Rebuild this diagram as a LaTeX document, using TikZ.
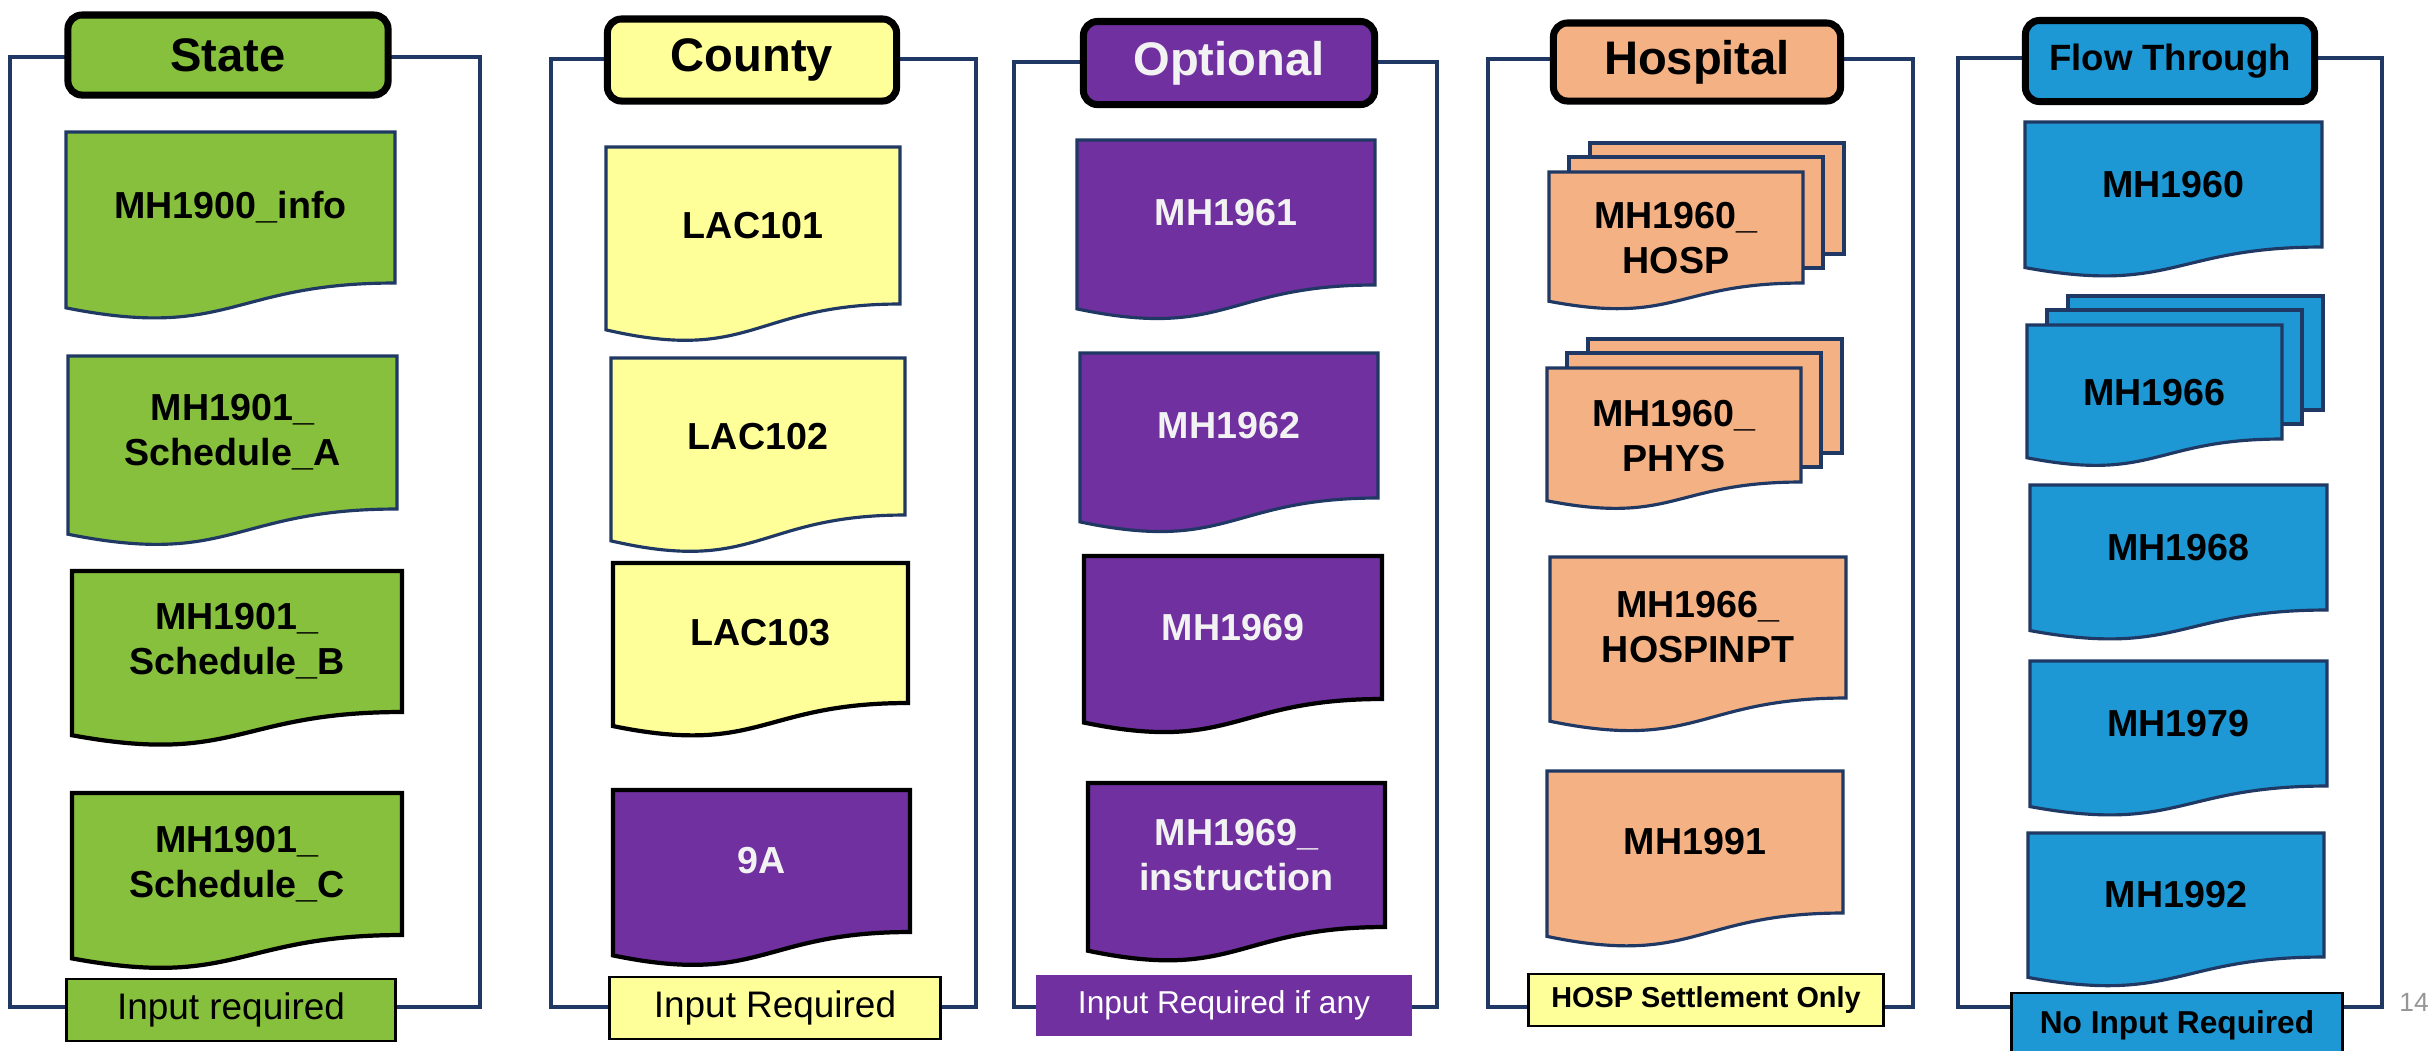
\documentclass[tikz,border=0pt]{standalone}
\usepackage{fontspec}
\setmainfont{Liberation Sans}
\usepackage{tikz}
\usetikzlibrary{calc}

\definecolor{stategreen}{RGB}{134,192,60}
\definecolor{countyyellow}{RGB}{255,255,153}
\definecolor{optpurple}{RGB}{112,48,160}
\definecolor{hospsalmon}{RGB}{244,177,131}
\definecolor{flowblue}{RGB}{29,152,212}
\definecolor{framenavy}{RGB}{31,56,100}
\definecolor{lighttext}{RGB}{242,242,242}
\definecolor{pagegray}{RGB}{150,150,150}

% document shape: top left corner, width, height of the straight part
\newcommand{\docpath}[4]{(#1,#2) -- ({#1+#3},#2) -- ({#1+#3},{#2+#4}) .. controls ({#1+0.5*#3},{#2+#4}) and ({#1+0.5*#3},{#2+1.381*#4}) .. (#1,{#2+1.1646*#4}) -- cycle}

\begin{document}
\begin{tikzpicture}[x=0.01cm, y=-0.01cm,
    frameline/.style={draw=framenavy, line width=0.9pt},
    header/.style={draw=black, line width=2pt, rounded corners=4pt, inner sep=0pt, font=\fontsize{13.4}{16}\selectfont\bfseries},
    footer/.style={draw=black, line width=0.8pt, inner sep=0pt},
    doctext/.style={align=center, inner sep=0pt, font=\fontsize{10.7}{12.8}\selectfont\bfseries}]
    \useasboundingbox (0,0) rectangle (2430,1050);

    % Column frames (1 unit = 1 px of the slide)
    \foreach \x/\y/\xx in {10/57/480, 551/59/976, 1014/62/1437, 1488/59/1913, 1958/58/2382} {
        \draw[frameline] (\x,\y) rectangle (\xx,1007);
    }

    % Headers
    \node[header, fill=stategreen, minimum width=3.20cm, minimum height=0.80cm] (hState) at (228,55) {State};
    \node[header, fill=countyyellow, minimum width=2.89cm, minimum height=0.82cm] (hCounty) at (752,60) {County};
    \node[header, fill=optpurple, text=lighttext, minimum width=2.91cm, minimum height=0.83cm] (hOptional) at (1229,63) {Optional};
    \node[header, fill=hospsalmon, minimum width=2.87cm, minimum height=0.78cm] (hHospital) at (1697,62) {Hospital};
    \node[header, fill=flowblue, minimum width=2.89cm, minimum height=0.81cm, font=\fontsize{10.4}{12}\selectfont\bfseries] (hFlow) at (2170,61) {Flow Through};

    % Footers
    \node[footer, fill=stategreen, minimum width=3.29cm, minimum height=0.62cm, font=\fontsize{10.5}{12}\selectfont] (fState) at (231,1010) {Input required};
    \node[footer, fill=countyyellow, minimum width=3.31cm, minimum height=0.62cm, font=\fontsize{10.5}{12}\selectfont] (fCounty) at (775,1008) {Input Required};
    \node[footer, draw=none, fill=optpurple, text=white, minimum width=3.76cm, minimum height=0.61cm, font=\fontsize{9}{11}\selectfont] (fOptional) at (1224,1005) {Input Required if any};
    \node[footer, fill=countyyellow, minimum width=3.55cm, minimum height=0.52cm, font=\fontsize{8.2}{10}\selectfont\bfseries] (fHospital) at (1706,1000) {HOSP Settlement Only};
    \node[footer, fill=flowblue, minimum width=3.31cm, minimum height=0.64cm, font=\fontsize{9}{11}\selectfont\bfseries] (fFlow) at (2177,1025) {No Input Required};

    % Single documents
    \foreach \n/\x/\y/\w/\h/\fc/\lc/\lw/\tc/\lbl in {
        s1/66/132/329/151/stategreen/framenavy/0.9pt/black/{MH1900\_info},
        s2/68/356/329/153/stategreen/framenavy/0.9pt/black/{MH1901\_\\Schedule\_A},
        s3/72/571/330/141/stategreen/black/1.2pt/black/{MH1901\_\\Schedule\_B},
        s4/72/793/330/142/stategreen/black/1.2pt/black/{MH1901\_\\Schedule\_C},
        c1/606/147/294/157/countyyellow/framenavy/0.9pt/black/LAC101,
        c2/611/358/294/157/countyyellow/framenavy/0.9pt/black/LAC102,
        c3/613/563/295/140/countyyellow/black/1.2pt/black/LAC103,
        c4/613/790/297/142/optpurple/black/1.2pt/lighttext/9A,
        o1/1077/140/298/145/optpurple/framenavy/0.9pt/lighttext/MH1961,
        o2/1080/353/298/145/optpurple/framenavy/0.9pt/lighttext/MH1962,
        o3/1084/556/298/143/optpurple/black/1.2pt/lighttext/MH1969,
        o4/1088/783/297/144/optpurple/black/1.2pt/lighttext/{MH1969\_\\instruction},
        h3/1550/557/296/141/hospsalmon/framenavy/0.9pt/black/{MH1966\_\\HOSPINPT},
        h4/1547/771/296/142/hospsalmon/framenavy/0.9pt/black/MH1991,
        f1/2025/122/297/125/flowblue/framenavy/0.9pt/black/MH1960,
        f3/2030/485/297/125/flowblue/framenavy/0.9pt/black/MH1968,
        f4/2030/661/297/125/flowblue/framenavy/0.9pt/black/MH1979,
        f5/2028/833/296/124/flowblue/framenavy/0.9pt/black/MH1992} {
        \draw[draw=\lc, line width=\lw, fill=\fc] \docpath{\x}{\y}{\w}{\h};
        \node[doctext, text=\tc] (\n) at ({\x+\w/2},{\y+\h/2}) {\lbl};
    }

    % Stacked documents
    \foreach \n/\x/\y/\w/\h/\fc/\lbl in {
        h1/1549/172/254/111/hospsalmon/{MH1960\_\\HOSP},
        h2/1547/368/254/114/hospsalmon/{MH1960\_\\PHYS},
        f2/2027/325/255/114/flowblue/MH1966} {
        \draw[frameline, fill=\fc] ({\x+41},{\y-29}) rectangle ++(\w,\h);
        \draw[frameline, fill=\fc] ({\x+20},{\y-15}) rectangle ++(\w,\h);
        \draw[frameline, fill=\fc] \docpath{\x}{\y}{\w}{\h};
        \node[doctext] (\n) at ({\x+\w/2},{\y+\h/2+11}) {\lbl};
    }

    % Slide number
    \node[text=pagegray, inner sep=0pt, font=\fontsize{7.5}{9}\selectfont] (pnum) at (2414,1002) {14};
\end{tikzpicture}
\end{document}
